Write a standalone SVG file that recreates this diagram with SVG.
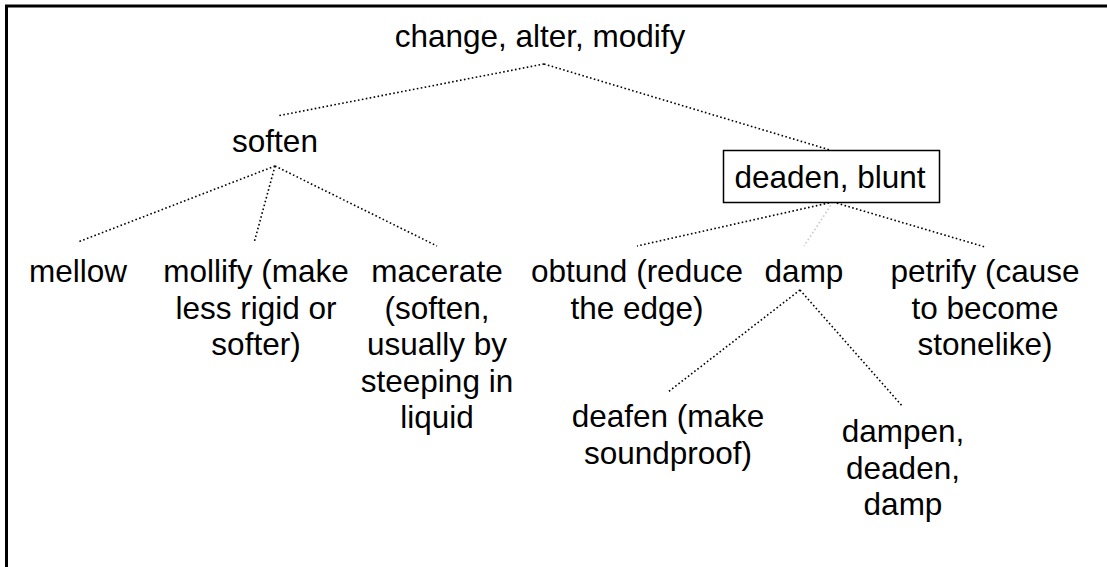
<svg xmlns="http://www.w3.org/2000/svg" width="1107" height="567" viewBox="0 0 1107 567">
<style>
text{font-family:"Liberation Sans",Arial,sans-serif;font-size:31.5px;fill:#000;text-anchor:middle}
.c{stroke:#000;stroke-width:1.6;stroke-dasharray:1.6 2.4;fill:none}
.g{stroke:#c8c8c8}
</style>
<rect x="0" y="0" width="1107" height="567" fill="#fff"/>
<rect x="6.5" y="6" width="1200" height="700" fill="none" stroke="#000" stroke-width="3"/>
<g id="connectors">
<line class="c" x1="544" y1="64" x2="277" y2="116"/>
<line class="c" x1="544" y1="64" x2="830" y2="150"/>
<line class="c" x1="275" y1="166" x2="78" y2="242"/>
<line class="c" x1="275" y1="166" x2="254" y2="243"/>
<line class="c" x1="275" y1="166" x2="437" y2="246"/>
<line class="c" x1="833" y1="202" x2="637" y2="246"/>
<line class="c g" x1="833" y1="202" x2="804" y2="246"/>
<line class="c" x1="833" y1="202" x2="985" y2="247"/>
<line class="c" x1="800" y1="290" x2="668" y2="392"/>
<line class="c" x1="800" y1="290" x2="903" y2="407"/>
</g>
<g id="n-change"><text x="540" y="47">change, alter, modify</text></g>
<g id="n-soften"><text x="275" y="152">soften</text></g>
<g id="n-deaden"><rect x="723.5" y="150.5" width="216" height="52" fill="#fff" stroke="#000" stroke-width="1.5"/><text x="830" y="188">deaden, blunt</text></g>
<g id="n-mellow"><text x="78" y="282">mellow</text></g>
<g id="n-mollify"><text x="256" y="282">mollify (make<tspan x="256" dy="36.5">less rigid or</tspan><tspan x="256" dy="36.5">softer)</tspan></text></g>
<g id="n-macerate"><text x="437" y="282">macerate<tspan x="437" dy="36.5">(soften,</tspan><tspan x="437" dy="36.5">usually by</tspan><tspan x="437" dy="36.5">steeping in</tspan><tspan x="437" dy="36.5">liquid</tspan></text></g>
<g id="n-obtund"><text x="637" y="282">obtund (reduce<tspan x="637" dy="36.5">the edge)</tspan></text></g>
<g id="n-damp"><text x="804" y="282">damp</text></g>
<g id="n-petrify"><text x="985" y="282">petrify (cause<tspan x="985" dy="36.5">to become</tspan><tspan x="985" dy="36.5">stonelike)</tspan></text></g>
<g id="n-deafen"><text x="668" y="427">deafen (make<tspan x="668" dy="36.5">soundproof)</tspan></text></g>
<g id="n-dampen"><text x="903" y="442">dampen,<tspan x="903" dy="36.5">deaden,</tspan><tspan x="903" dy="36.5">damp</tspan></text></g>
</svg>
